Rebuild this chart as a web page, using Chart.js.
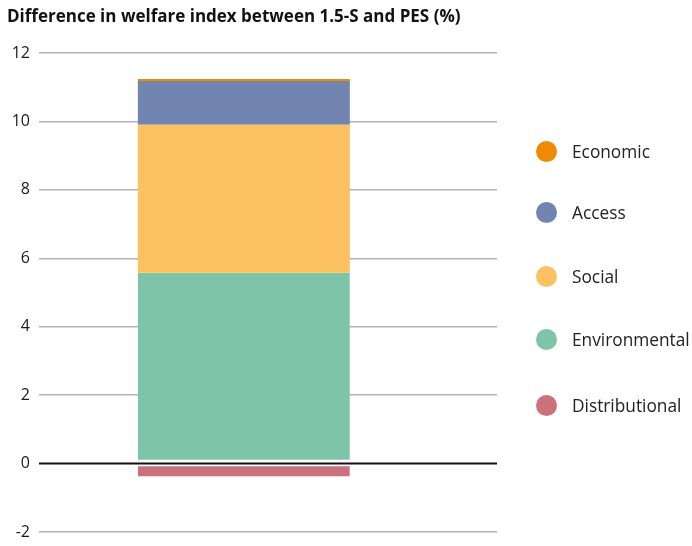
<!DOCTYPE html>
<html><head><meta charset="utf-8">
<script src="https://cdn.jsdelivr.net/npm/chart.js@4.4.0/dist/chart.umd.min.js"></script>
<style>
html,body{margin:0;padding:0;background:#fff;}
#wrap{position:relative;width:692px;height:546px;}
#c{display:block;}
#title{position:absolute;left:7px;top:4px;font-family:"Open Sans",sans-serif;font-weight:700;font-size:17px;color:#111;white-space:nowrap;}
.leg{position:absolute;left:536px;font-family:"Open Sans",sans-serif;font-size:17.3px;color:#222;white-space:nowrap;}
.leg span.dot{position:absolute;left:0;top:0;width:21px;height:21px;border-radius:50%;}
.leg span.txt{position:absolute;left:36px;top:-1px;}
</style></head>
<body><div id="wrap"><canvas id="c" width="692" height="546"></canvas><div id="title">Difference in welfare index between 1.5-S and PES (%)</div></div>
<script>
const seriesNames = ['Environmental','Social','Access','Economic','Distributional'];
const seriesValues = {
  Environmental: [5.58],
  Social: [4.32],
  Access: [1.28],
  Economic: [0.06],
  Distributional: [-0.38]
};
const seriesColors = {
  Environmental:'#7ec4a9', Social:'#fcc261', Access:'#7284b0', Economic:'#ef8b00', Distributional:'#cb717c'
};
const legendOrder = ['Economic','Access','Social','Environmental','Distributional'];
const legendY = [141,202,266,329,395];
const yTicks = [-2,0,2,4,6,8,10,12];

const wrap = document.getElementById('wrap');
legendOrder.forEach((n,i)=>{
  const d=document.createElement('div');d.className='leg';d.style.top=legendY[i]+'px';
  d.innerHTML='<span class="dot" style="background:'+seriesColors[n]+'"></span><span class="txt">'+n+'</span>';
  wrap.appendChild(d);
});

const datasets = seriesNames.map(n=>{
  const ds = {
    label:n,
    data: seriesValues[n].map(v=>({x:0,y:v})),
    backgroundColor: seriesColors[n],
    borderColor:'#ffffff',
    borderWidth:0,
    borderSkipped:false,
    barThickness:212,
    inflateAmount:0
  };
  if(n==='Environmental'){ds.borderWidth={top:0,left:0,right:0,bottom:3};}
  if(n==='Distributional'){ds.borderWidth={top:2,left:0,right:0,bottom:0};}
  return ds;
});

const zeroLine = {
  id:'zeroLine',
  afterDatasetsDraw(chart){
    const y = chart.scales.y.getPixelForValue(0);
    const ctx = chart.ctx, a = chart.chartArea;
    ctx.save();ctx.strokeStyle='#111';ctx.lineWidth=2;
    ctx.beginPath();ctx.moveTo(a.left,y);ctx.lineTo(a.right,y);ctx.stroke();ctx.restore();
  }
};

new Chart(document.getElementById('c'),{
  type:'bar',
  data:{datasets},
  plugins:[zeroLine],
  options:{
    responsive:false,animation:false,
    layout:{padding:{top:53,bottom:14,right:195,left:0}},
    plugins:{legend:{display:false},title:{display:false},tooltip:{enabled:false}},
    scales:{
      x:{type:'linear',min:-1,max:1.29,stacked:true,display:false},
      y:{stacked:true,min:-2,max:12,
        afterBuildTicks(s){s.ticks=yTicks.map(v=>({value:v}));},
        afterFit(s){s.width=39;s.paddingBottom=0;s.paddingTop=0;},
        border:{display:false},
        grid:{drawTicks:false,color:(c)=>c.tick&&c.tick.value===0?'rgba(0,0,0,0)':'#b3b3b3',lineWidth:1.5},
        ticks:{padding:9,color:'#1a1a1a',font:{family:'"Open Sans", sans-serif',size:16}}
      }
    }
  }
});
</script></body></html>
